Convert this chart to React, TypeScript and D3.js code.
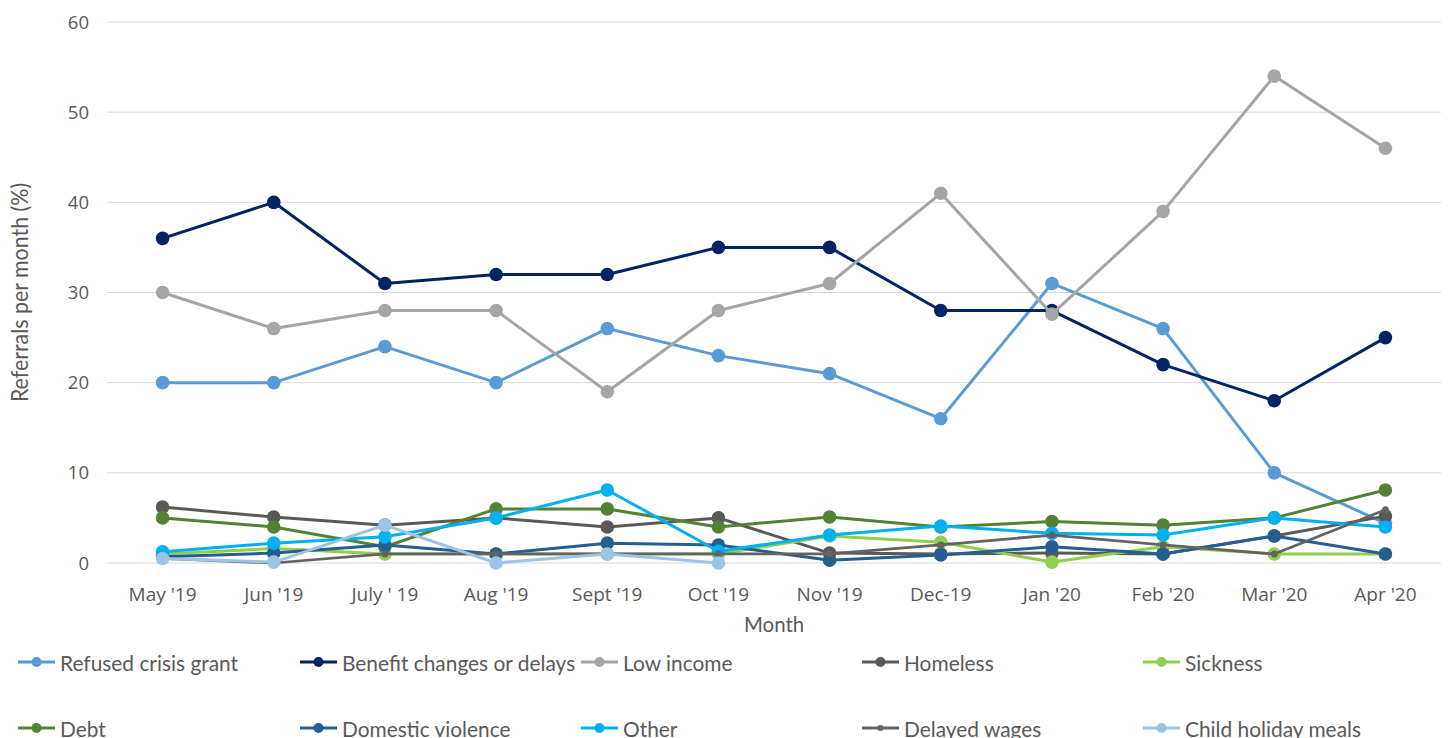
import React from "react";
import * as d3 from "d3";

const months = ["May '19", "Jun '19", "July ' 19", "Aug '19", "Sept '19", "Oct '19", "Nov '19", "Dec-19", "Jan '20", "Feb '20", "Mar '20", "Apr '20"];
const yTicks = [0, 10, 20, 30, 40, 50, 60];

const refusedCrisisGrant = [20, 20, 24, 20, 26, 23, 21, 16, 31, 26, 10, 4.4];
const benefitChanges = [36, 40, 31, 32, 32, 35, 35, 28, 28, 22, 18, 25];
const lowIncome = [30, 26, 28, 28, 19, 28, 31, 41, 27.6, 39, 54, 46];
const homeless = [6.2, 5.1, 4.2, 5, 4, 5, 1.1, 1, 1.1, 1, 3, 5.2];
const sickness = [1, 1.6, 1, 1, 1, 1, 3, 2.3, 0.1, 1.8, 1, 1];
const debt = [5, 4, 1.8, 6, 6, 4, 5.1, 4, 4.6, 4.2, 5, 8.1];
const domesticViolence = [0.7, 1.1, 2, 1, 2.2, 2, 0.3, 0.9, 1.8, 1, 3, 1];
const other = [1.25, 2.2, 2.9, 5, 8.1, 1.3, 3.1, 4.1, 3.3, 3.1, 5, 4];
const delayedWages = [0.5, 0, 1, 1, 1, 1, 1, 2, 3.1, 2, 1, 5.9];
const childHolidayMeals: (number | null)[] = [0.5, 0.1, 4.2, 0, 1, 0, null, null, null, null, null, null];

const seriesNames = ["Refused crisis grant", "Benefit changes or delays", "Low income", "Homeless", "Sickness", "Debt", "Domestic violence", "Other", "Delayed wages", "Child holiday meals"];
const seriesValues: (number | null)[][] = [refusedCrisisGrant, benefitChanges, lowIncome, homeless, sickness, debt, domesticViolence, other, delayedWages, childHolidayMeals];
const seriesColors = ["#5b9bd5", "#032365", "#a5a5a5", "#595959", "#8fcf4d", "#548235", "#255e91", "#00b0f0", "#636363", "#9dc3e6"];
const smallMarker = [false, false, false, false, false, false, false, false, true, false];

const W = 1450, H = 738;
const plotLeft = 107, plotRight = 1441, plotTop = 22, plotBottom = 563;
const tickFont = "'Open Sans', 'Noto Sans', sans-serif";
const labelFont = "Lato, 'Noto Sans', sans-serif";
const textColor = "#595959";

export default function App() {
  const x = d3.scaleBand<string>().domain(months).range([plotLeft, plotRight]);
  const cx = (m: string) => (x(m) as number) + x.bandwidth() / 2;
  const y = d3.scaleLinear().domain([0, 60]).range([plotBottom, plotTop]);

  const line = d3
    .line<number | null>()
    .defined((d) => d !== null)
    .x((_, i) => cx(months[i]))
    .y((d) => y(d as number));

  const legendCols = [18, 300, 581, 862, 1143];
  const legendRows = [662, 728];

  return (
    <svg width={W} height={H} style={{ position: "absolute", left: 0, top: 0, background: "#fff" }}>
      <rect x={0} y={0} width={W} height={H} fill="#fff" />
      {yTicks.map((t) => (
        <g key={t}>
          <line x1={plotLeft} x2={plotRight} y1={y(t)} y2={y(t)} stroke="#d9d9d9" strokeWidth={1} />
          <text x={89} y={y(t)} dy="0.36em" textAnchor="end" fontFamily={tickFont} fontSize={18.5} fill={textColor}>
            {t}
          </text>
        </g>
      ))}
      {months.map((m) => (
        <text key={m} x={cx(m)} y={600.5} textAnchor="middle" fontFamily={tickFont} fontSize={19} fill={textColor}>
          {m}
        </text>
      ))}
      <text
        transform={`translate(${(plotLeft + plotRight) / 2}, 632) scale(0.95,1)`}
        textAnchor="middle"
        fontFamily={labelFont}
        fontSize={21.5}
        fill={textColor}
      >
        Month
      </text>
      <text
        transform={`translate(20, ${(plotTop + plotBottom) / 2}) rotate(-90) scale(0.95,1)`}
        dy="0.35em"
        textAnchor="middle"
        fontFamily={labelFont}
        fontSize={22.5}
        fill={textColor}
      >
        Referrals per month (%)
      </text>

      {seriesValues.map((vals, si) => (
        <g key={seriesNames[si]}>
          <path d={line(vals) || ""} fill="none" stroke={seriesColors[si]} strokeWidth={smallMarker[si] ? 2.75 : 3} strokeLinejoin="round" />
          {vals.map((v, i) =>
            v === null ? null : (
              <circle key={i} cx={cx(months[i])} cy={y(v)} r={smallMarker[si] ? 3.5 : 6.8} fill={seriesColors[si]} />
            )
          )}
        </g>
      ))}

      {seriesNames.map((name, si) => {
        const lx = legendCols[si % 5];
        const ly = legendRows[Math.floor(si / 5)];
        return (
          <g key={name}>
            <line x1={lx} x2={lx + 37} y1={ly} y2={ly} stroke={seriesColors[si]} strokeWidth={3} />
            <circle cx={lx + 18.5} cy={ly} r={smallMarker[si] ? 3 : 5} fill={seriesColors[si]} />
            <text
              transform={`translate(${lx + 42}, ${ly + 9}) scale(0.95,1)`}
              fontFamily={labelFont}
              fontSize={22}
              fill={textColor}
            >
              {name}
            </text>
          </g>
        );
      })}
    </svg>
  );
}
